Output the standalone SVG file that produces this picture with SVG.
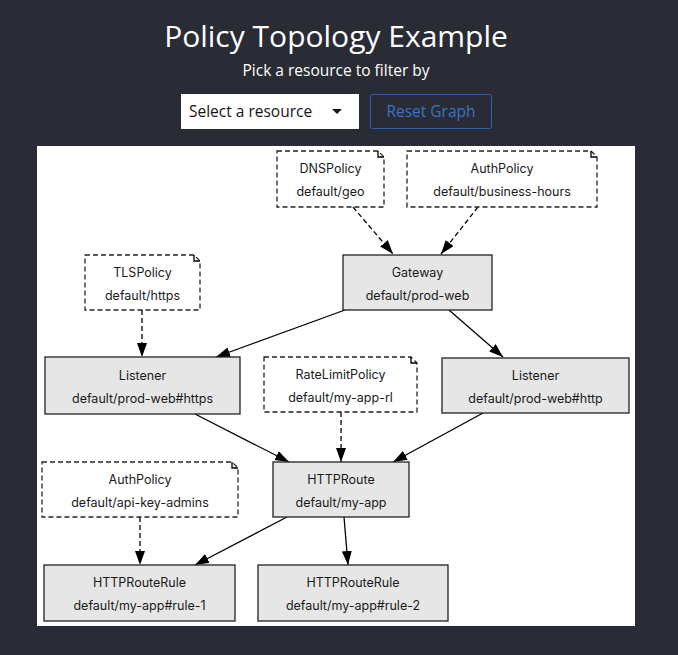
<svg xmlns="http://www.w3.org/2000/svg" width="678" height="655" viewBox="0 0 678 655">
<style>
.bg{fill:#292c34}
.t{font-family:Inter,"Noto Sans","DejaVu Sans",sans-serif;font-size:12.5px;fill:#1a1a1a;text-anchor:middle}
.n{fill:#e6e6e6;stroke:#222;stroke-width:1.3}
.p{fill:#fff;stroke:#222;stroke-width:1.3;stroke-dasharray:5,3}
.e{stroke:#000;stroke-width:1.3;fill:none}
.d{stroke-dasharray:5,3}
</style>
<defs>
<marker id="ah" markerUnits="userSpaceOnUse" markerWidth="15" markerHeight="12" refX="14" refY="5" orient="auto">
<path d="M0,0 L14,5 L0,10 z" fill="#000"/>
</marker>
</defs>
<rect class="bg" x="0" y="0" width="678" height="655"/>
<g id="header">
<text x="336" y="47" font-family="'Open Sans','Noto Sans',sans-serif" font-size="30" fill="#fff" text-anchor="middle">Policy Topology Example</text>
<text x="336" y="76" font-family="'Open Sans','Noto Sans',sans-serif" font-size="15.5" fill="#fff" text-anchor="middle">Pick a resource to filter by</text>
<rect x="181" y="94" width="178" height="35" fill="#fff"/>
<text x="189" y="117" font-family="'Open Sans','Noto Sans',sans-serif" font-size="15.5" fill="#151515">Select a resource</text>
<path d="M332,109 L342,109 L337,114 z" fill="#151515"/>
<rect x="370.5" y="94.5" width="121" height="34" rx="2" fill="none" stroke="#2d63b5" stroke-width="1"/>
<text x="431" y="117" font-family="'Open Sans','Noto Sans',sans-serif" font-size="15.5" fill="#3b73c6" text-anchor="middle">Reset Graph</text>
</g>
<rect x="37" y="146" width="598" height="480" fill="#fff"/>
<g id="connectors">
<line class="e d" x1="353" y1="207" x2="393" y2="254" marker-end="url(#ah)"/>
<line class="e d" x1="478" y1="207" x2="441" y2="254" marker-end="url(#ah)"/>
<line class="e" x1="345" y1="310" x2="216" y2="357" marker-end="url(#ah)"/>
<line class="e" x1="449" y1="310" x2="503" y2="357" marker-end="url(#ah)"/>
<line class="e d" x1="142" y1="310" x2="142" y2="357" marker-end="url(#ah)"/>
<line class="e" x1="195" y1="414" x2="289" y2="462" marker-end="url(#ah)"/>
<line class="e d" x1="341" y1="412" x2="341" y2="462" marker-end="url(#ah)"/>
<line class="e" x1="483" y1="413" x2="393" y2="462" marker-end="url(#ah)"/>
<line class="e d" x1="140" y1="517" x2="140" y2="565" marker-end="url(#ah)"/>
<line class="e" x1="287" y1="517" x2="195" y2="565" marker-end="url(#ah)"/>
<line class="e" x1="344" y1="517" x2="348" y2="565" marker-end="url(#ah)"/>
</g>
<g id="dnspolicy">
<path class="p" d="M277,151 H378 L384,157 V207 H277 Z"/>
<path class="e" d="M378,151 V157 H384" stroke-width="1"/>
<text class="t" x="330.5" y="173">DNSPolicy</text>
<text class="t" x="330.5" y="196">default/geo</text>
</g>
<g id="authpolicy-business-hours">
<path class="p" d="M407,151 H591 L597,157 V207 H407 Z"/>
<path class="e" d="M591,151 V157 H597" stroke-width="1"/>
<text class="t" x="502" y="173">AuthPolicy</text>
<text class="t" x="502" y="196">default/business-hours</text>
</g>
<g id="gateway">
<rect class="n" x="343" y="255" width="149" height="55"/>
<text class="t" x="417.5" y="277">Gateway</text>
<text class="t" x="417.5" y="300">default/prod-web</text>
</g>
<g id="tlspolicy">
<path class="p" d="M85,255 H194 L200,261 V310 H85 Z"/>
<path class="e" d="M194,255 V261 H200" stroke-width="1"/>
<text class="t" x="142.5" y="277">TLSPolicy</text>
<text class="t" x="142.5" y="300">default/https</text>
</g>
<g id="listener-https">
<rect class="n" x="45" y="357" width="195" height="57"/>
<text class="t" x="142.5" y="380">Listener</text>
<text class="t" x="142.5" y="403">default/prod-web#https</text>
</g>
<g id="ratelimitpolicy">
<path class="p" d="M264,357 H411 L417,363 V412 H264 Z"/>
<path class="e" d="M411,357 V363 H417" stroke-width="1"/>
<text class="t" x="340.5" y="379">RateLimitPolicy</text>
<text class="t" x="340.5" y="402">default/my-app-rl</text>
</g>
<g id="listener-http">
<rect class="n" x="442" y="358" width="187" height="55"/>
<text class="t" x="535.5" y="380">Listener</text>
<text class="t" x="535.5" y="403">default/prod-web#http</text>
</g>
<g id="httproute">
<rect class="n" x="273" y="462" width="136" height="55"/>
<text class="t" x="341" y="484">HTTPRoute</text>
<text class="t" x="341" y="507">default/my-app</text>
</g>
<g id="authpolicy-api-key-admins">
<path class="p" d="M42,462 H232 L238,468 V517 H42 Z"/>
<path class="e" d="M232,462 V468 H238" stroke-width="1"/>
<text class="t" x="140" y="484">AuthPolicy</text>
<text class="t" x="140" y="507">default/api-key-admins</text>
</g>
<g id="httprouterule-1">
<rect class="n" x="44" y="565" width="191" height="56"/>
<text class="t" x="139.5" y="587">HTTPRouteRule</text>
<text class="t" x="139.5" y="610">default/my-app#rule-1</text>
</g>
<g id="httprouterule-2">
<rect class="n" x="258" y="565" width="190" height="56"/>
<text class="t" x="353" y="587">HTTPRouteRule</text>
<text class="t" x="353" y="610">default/my-app#rule-2</text>
</g>
</svg>
